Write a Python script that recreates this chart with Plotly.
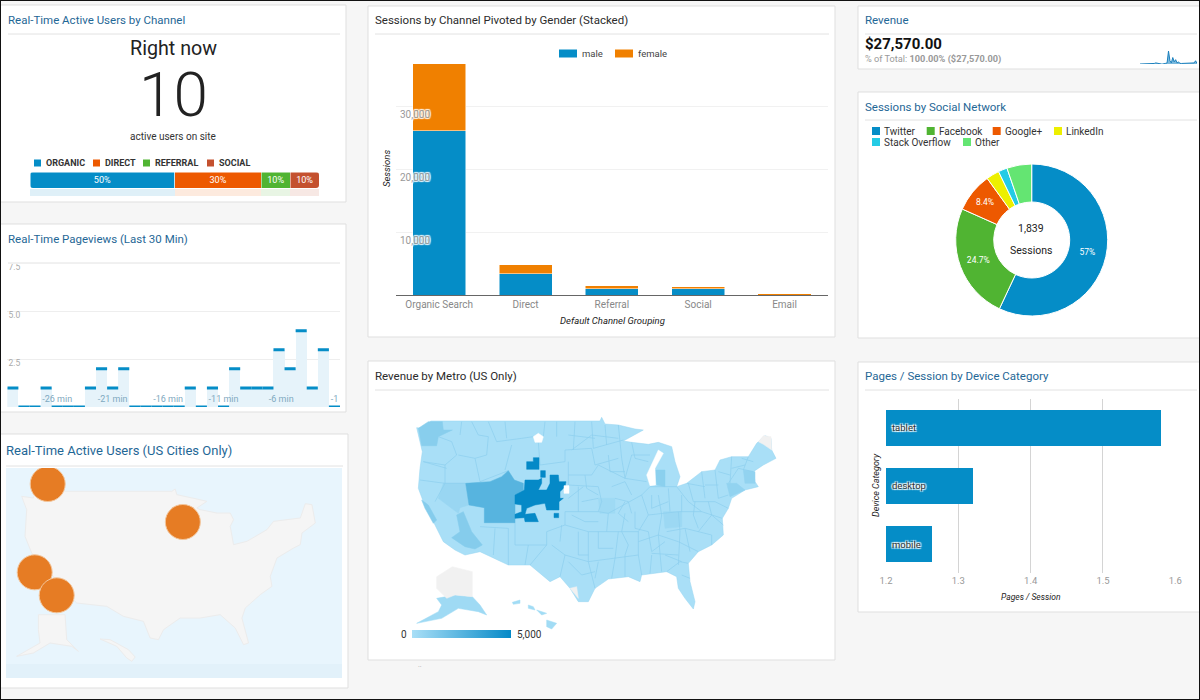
import plotly.graph_objects as go

W, H = 1200, 700
BLUE, ORANGE, GREEN, RED = "#058dc7", "#ed5900", "#50b432", "#c4512f"
TITLE_BLUE, GREY = "#1f6796", "#999999"

# ---------- data ----------
channels = ["ORGANIC", "DIRECT", "REFERRAL", "SOCIAL"]
channel_share = [50, 30, 10, 10]
channel_colors = [BLUE, ORANGE, GREEN, RED]

pageviews = [1, 0, 0, 1, 0, 0, 0, 1, 2, 1, 2, 0, 0, 0, 0, 0, 1, 0, 1, 0, 2, 1, 1, 1, 3, 2, 4, 1, 3, 0]
pageview_ticks = ["-26 min", "-21 min", "-16 min", "-11 min", "-6 min", "-1"]
pageview_tick_pos = [4.5, 9.5, 14.5, 19.5, 24.7, 29.5]
pageview_grid = [2.5, 5.0, 7.5]

gender_categories = ["Organic Search", "Direct", "Referral", "Social", "Email"]
male_sessions = [26100, 3390, 1060, 1060, 20]
female_sessions = [10680, 1430, 420, 265, 100]
session_ticks = [10000, 20000, 30000, 40000]

social_names = ["Twitter", "Facebook", "Google+", "LinkedIn", "Stack Overflow", "Other"]
social_sessions = [1048, 454, 154, 51, 35, 97]
social_labels = ["57%", "24.7%", "8.4%", "", "", ""]
social_colors = [BLUE, "#50b432", ORANGE, "#edef00", "#24cbe5", "#64e572"]

revenue_spark = [0, 0, 0, 0, .4, .6, .5, .2, 0, 0, .5, 1, .6, .2, 0, 0, 0, 0, .6, 1, 12, 3, 1, 6, 2, 4, 1, 2,
                 .6, .5, .5, .4, .4, .4, .5, .5, .5, .6, 1, 3, .6]

devices = ["tablet", "desktop", "mobile"]
pages_per_session = [1.58, 1.32, 1.263]
device_ticks = [1.2, 1.3, 1.4, 1.5, 1.6]

# bubble map, in map-plane units
city_x = [143, 548, 104, 170]
city_y = [163, 277, 428, 497]
us_pale_x = [65, 100, 105, 515, 525, 530, 590, 620, 590, 600, 650, 690, 700, 690, 700, 740, 800, 820, 860, 900, 915,
             935, 945, 905, 900, 880, 830, 810, 815, 780, 735, 725, 745, 730, 705, 660, 600, 540, 490, 475, 450, 430,
             370, 320, 230, 190, 160, 95, 75, 80, 65]
us_pale_y = [200, 205, 185, 185, 178, 195, 208, 215, 235, 240, 250, 250, 270, 290, 345, 335, 300, 275, 270, 265, 222,
             225, 280, 310, 345, 355, 385, 440, 470, 495, 535, 565, 640, 645, 595, 555, 565, 565, 600, 630, 625, 575,
             560, 530, 520, 480, 440, 370, 320, 240, 200]
ak_pale_x = [115, 195, 200, 235, 215, 150, 100, 50, 120, 115, 115]
ak_pale_y = [555, 555, 630, 665, 650, 640, 670, 680, 640, 600, 555]
hi_pale_x = [300, 330, 385, 405, 395, 380, 350, 300]
hi_pale_y = [628, 630, 660, 682, 695, 685, 650, 628]

# metro map, in map-plane units
us_x = [155, 190, 197, 705, 710, 720, 760, 810, 835, 790, 775, 800, 850, 880, 920, 930, 945, 935, 965, 1010, 1050, 1065,
        1100, 1150, 1175, 1200, 1218, 1220, 1233, 1195, 1165, 1170, 1180, 1140, 1100, 1090, 1072, 1075, 1040, 1000,
        970, 975, 990, 985, 960, 940, 935, 905, 870, 830, 825, 790, 730, 690, 670, 640, 615, 585, 555, 520, 495, 465,
        430, 345, 300, 270, 235, 210, 175, 160, 165, 172, 155]
us_y = [218, 222, 198, 198, 187, 207, 210, 222, 225, 250, 258, 262, 268, 262, 275, 320, 365, 395, 385, 350, 345, 315,
        305, 305, 265, 242, 250, 285, 310, 330, 350, 380, 395, 405, 430, 460, 490, 540, 570, 590, 625, 680, 740, 762,
        730, 700, 665, 650, 655, 660, 680, 665, 672, 700, 740, 740, 700, 665, 680, 650, 630, 630, 630, 590, 600, 585,
        560, 510, 440, 400, 340, 290, 218]
lake_x = [845, 880, 895, 870, 872, 855, 845]
lake_y = [360, 285, 295, 340, 390, 392, 360]

metro_regions = [
    ("Salt Lake City", 2500, [302, 375, 410, 430, 448, 475, 475, 450, 450, 358, 358, 312, 302],
     [385, 380, 365, 347, 375, 385, 405, 420, 503, 503, 458, 450, 385]),
    ("Denver", 5000, [450, 478, 480, 520, 530, 530, 520, 545, 555, 555, 580, 582, 603, 600, 585, 585, 595, 582, 582, 545,
                      540, 510, 485, 480, 510, 520, 480, 478, 450, 450, 470, 470, 450, 450],
     [420, 405, 375, 375, 370, 385, 405, 405, 385, 360, 360, 380, 380, 395, 410, 430, 430, 440, 465, 465,
      445, 450, 460, 478, 475, 500, 500, 488, 490, 478, 470, 450, 447, 420]),
    ("Casper", 5000, [485, 505, 505, 522, 522, 485, 485], [320, 320, 308, 308, 343, 343, 320]),
    ("Cheyenne", 5000, [527, 541, 541, 527, 527], [347, 347, 367, 367, 347]),
    ("Pueblo", 5000, [567, 581, 581, 567, 567], [475, 475, 488, 488, 475]),
    ("Seattle", 1000, [190, 232, 235, 262, 220, 215, 170, 160, 190], [200, 200, 225, 225, 245, 272, 272, 220, 200]),
    ("Los Angeles", 1100, [275, 295, 320, 352, 330, 300, 260, 285, 275], [480, 470, 530, 570, 582, 575, 548, 530, 480]),
    ("San Francisco", 1100, [170, 190, 215, 205, 180, 170], [435, 450, 495, 505, 460, 435]),
    ("Reno", 500, [235, 302, 312, 285, 280, 245, 220, 235], [385, 385, 450, 458, 475, 450, 430, 385]),
    ("Lansing", 900, [870, 900, 900, 875, 870], [345, 345, 395, 390, 345]),
    ("Boston", 700, [1135, 1170, 1170, 1140, 1135], [345, 350, 385, 385, 345]),
    ("New York", 700, [1085, 1115, 1140, 1095, 1085], [385, 385, 405, 425, 385]),
    ("Indianapolis", 300, [700, 750, 750, 705, 700], [430, 430, 475, 475, 430]),
    ("Atlanta", 400, [895, 950, 950, 900, 895], [470, 470, 515, 520, 470]),
    ("Alaska", 300, [215, 270, 322, 345, 365, 340, 280, 230, 155, 220, 230, 215],
     [730, 720, 725, 750, 780, 770, 760, 790, 805, 770, 750, 730]),
    ("Hawaii west", 200, [442, 465, 465, 445, 442], [742, 735, 745, 748, 742]),
    ("Hawaii mid", 200, [490, 505, 510, 490, 490], [750, 755, 765, 760, 750]),
    ("Hawaii maui", 200, [515, 545, 530, 515], [765, 775, 780, 765]),
    ("Hawaii big", 200, [545, 575, 560, 545, 545], [795, 805, 822, 815, 795]),
]
unserved = [
    ("Montana gap", "#ffffff", [505, 520, 535, 530, 510, 505], [245, 235, 245, 262, 262, 245]),
    ("Nebraska gap", "#ffffff", [597, 612, 612, 597, 597], [392, 392, 415, 415, 392]),
    ("Maine gap", "#f1f1f1", [1180, 1195, 1218, 1220, 1195, 1180], [260, 242, 245, 285, 268, 260]),
    ("Texas gap", "#f1f1f1", [615, 635, 640, 615], [700, 695, 730, 700]),
    ("Alaska north", "#f1f1f1", [215, 262, 322, 322, 270, 245, 215, 215], [665, 635, 650, 725, 720, 730, 700, 665]),
    ("Lake Michigan", "#ffffff", lake_x, lake_y),
]
border_lines = [
    [(320, 200), (340, 240), (370, 245), (365, 300), (330, 310)], [(370, 200), (395, 260), (470, 250), (505, 245)],
    [(520, 262), (525, 330), (600, 320), (600, 285), (680, 280), (690, 330), (760, 310)], [(630, 200), (625, 285)],
    [(540, 200), (535, 245)], [(685, 280), (720, 270), (775, 255)], [(760, 210), (770, 310), (780, 370)],
    [(220, 245), (260, 260), (275, 300), (240, 330), (175, 320)], [(240, 330), (240, 385)],
    [(165, 375), (240, 385), (300, 385)], [(280, 300), (330, 310), (345, 380)], [(610, 320), (610, 390), (700, 395)],
    [(610, 360), (680, 360), (700, 330), (780, 370)], [(700, 395), (710, 440), (700, 470), (730, 475), (830, 420)],
    [(780, 370), (800, 300), (855, 300)], [(780, 370), (845, 380)], [(830, 420), (855, 395), (935, 395)],
    [(830, 420), (850, 480), (820, 530), (820, 600), (830, 660)], [(730, 475), (725, 530), (670, 530), (670, 620)],
    [(670, 530), (600, 510), (545, 530), (545, 570), (495, 630)], [(345, 515), (430, 520), (430, 630)],
    [(450, 503), (450, 570), (545, 570)], [(600, 510), (600, 470), (700, 470)], [(725, 530), (820, 530)],
    [(670, 620), (750, 610), (820, 600)], [(600, 600), (670, 620), (690, 700)], [(560, 570), (600, 600), (585, 665)],
    [(880, 420), (890, 480), (880, 540), (890, 650)], [(850, 480), (940, 470), (1010, 470), (1072, 490)],
    [(820, 560), (880, 540), (940, 560), (1000, 590)], [(940, 470), (945, 530), (940, 630)],
    [(935, 395), (970, 440), (1010, 470)], [(970, 385), (985, 440), (1050, 440), (1090, 460)],
    [(1010, 350), (1020, 430)], [(1050, 345), (1060, 430)], [(1100, 305), (1095, 385)], [(1150, 305), (1135, 345)],
    [(1165, 350), (1120, 340), (1090, 385)], [(1000, 530), (1040, 480)], [(905, 650), (945, 620), (970, 625)],
    [(860, 595), (940, 600)], [(760, 530), (750, 610), (740, 670)], [(780, 475), (770, 530)],
    [(650, 440), (700, 430)], [(640, 395), (640, 470)],
    [(620, 285), (680, 240), (760, 250)], [(800, 262), (810, 310), (850, 320)], [(730, 300), (735, 350), (780, 350)],
    [(660, 360), (665, 400), (700, 420)], [(740, 395), (780, 380), (800, 420)], [(750, 430), (790, 440), (800, 475)],
    [(780, 440), (760, 475), (790, 500)], [(810, 470), (810, 520), (850, 530)], [(860, 420), (860, 460), (910, 440)],
    [(910, 400), (915, 470)], [(950, 420), (950, 470)], [(990, 440), (985, 480), (1000, 520)],
    [(1030, 440), (1040, 480), (1075, 510)], [(1020, 390), (1060, 390)], [(965, 385), (1020, 395)],
    [(1060, 350), (1095, 360)], [(1100, 340), (1140, 330)], [(1130, 310), (1165, 320)], [(1060, 430), (1090, 420)],
    [(850, 530), (860, 590), (900, 560)], [(905, 530), (960, 520), (1000, 530)], [(960, 520), (975, 590)],
    [(1000, 530), (1040, 540), (1040, 570)], [(770, 530), (790, 570), (780, 600)], [(700, 530), (700, 580), (745, 580)],
    [(640, 530), (640, 600), (670, 600)], [(610, 620), (650, 660), (690, 650)], [(700, 620), (690, 670)],
    [(780, 600), (780, 665)], [(860, 600), (855, 655)], [(900, 600), (950, 620)], [(950, 660), (975, 670)],
    [(620, 480), (660, 500), (700, 500)], [(655, 395), (610, 430)], [(590, 510), (585, 560)], [(490, 570), (480, 630)],
    [(390, 520), (385, 600)], [(175, 320), (245, 340)], [(210, 440), (240, 385)], [(290, 200), (285, 240)],
    [(420, 200), (425, 250)], [(440, 270), (420, 345)], [(345, 380), (430, 347)], [(575, 200), (575, 245)],
    [(680, 200), (685, 280)], [(610, 240), (690, 250)], [(720, 210), (725, 270)],
]
revenue_scale = [0, 5000]

tick_text = [f"{v:,}" for v in session_ticks[:3]]


# ---------- px helpers ----------
def px(x):
    return x / W


def py(y):
    return 1 - y / H


def rect(x0, y0, x1, y1, fill, line=None):
    return dict(type="rect", xref="paper", yref="paper", layer="below", x0=px(x0), x1=px(x1), y0=py(y0), y1=py(y1),
                fillcolor=fill, line=dict(color=line or fill, width=1 if line else 0))


def label(x, y, text, size=10, color="#333333", anchor="left", family="Roboto", **kw):
    font = dict(size=size, color=color, family=family)
    font.update(kw.pop("font", {}))
    return dict(xref="paper", yref="paper", x=px(x), y=py(y), text=text, showarrow=False, xanchor=anchor,
                yanchor="middle", borderpad=0, font=font, **kw)


shapes, notes, axes = [], [], {}
HALO = "1px 1px 1px #ffffff, -1px -1px 1px #ffffff, 1px -1px 1px #ffffff, -1px 1px 1px #ffffff"


def panel(x0, y0, x1, y1, title, tx, ty, div_y, color=TITLE_BLUE, size=11.5, div_x1=None):
    shapes.append(rect(x0, y0, x1, y1, "#ffffff", "#dfdfdf"))
    shapes.append(dict(type="line", xref="paper", yref="paper", layer="below", x0=px(tx + 1), x1=px(div_x1 or x1 - 6),
                       y0=py(div_y), y1=py(div_y), line=dict(color="#e2e2e2", width=1)))
    notes.append(label(tx, ty, title, size=size, color=color))


def add_axes(n, x0, x1, y0, y1, xkw=None, ykw=None):
    base = dict(showgrid=False, zeroline=False, showticklabels=False, ticks="", showline=False, fixedrange=True)
    suffix = "" if n == 1 else str(n)
    axes[f"xaxis{suffix}"] = {**base, "domain": [px(x0), px(x1)], "anchor": f"y{suffix}", **(xkw or {})}
    axes[f"yaxis{suffix}"] = {**base, "domain": [py(y1), py(y0)], "anchor": f"x{suffix}", **(ykw or {})}
    return dict(xaxis=f"x{suffix}", yaxis=f"y{suffix}")


def corner(cx, cy, dx, dy, r=3):
    """White notch that rounds one corner of the status bar."""
    p = (f"M {px(cx)} {py(cy)} L {px(cx + dx * r)} {py(cy)} Q {px(cx)} {py(cy)} {px(cx)} {py(cy + dy * r)} Z")
    return dict(type="path", xref="paper", yref="paper", path=p, fillcolor="#ffffff", line=dict(width=0), layer="above")


def lerp_color(v, lo=(169, 223, 247), hi=(5, 137, 199), vmax=5000):
    t = v / vmax
    return "rgb(%d,%d,%d)" % tuple(round(a + (b - a) * t) for a, b in zip(lo, hi))


fig = go.Figure()

# ---------- panels ----------
panel(-3, 5, 346, 202, "Real-Time Active Users by Channel", 7, 20, 34)
panel(-3, 224, 346, 412, "Real-Time Pageviews (Last 30 Min)", 7, 239, 263)
panel(-3, 434, 348, 688, "Real-Time Active Users (US Cities Only)", 5, 451, 466, size=13, div_x1=343)
panel(368, 6, 835, 337, "Sessions by Channel Pivoted by Gender (Stacked)", 374, 20, 34, color="#2b2b2b")
panel(368, 361, 835, 660, "Revenue by Metro (US Only)", 374, 376, 390, color="#2b2b2b")
panel(858, 6, 1203, 69, "Revenue", 864, 20, 34, div_x1=1197)
panel(858, 92, 1203, 338, "Sessions by Social Network", 864, 107, 120, div_x1=1197)
panel(858, 362, 1203, 612, "Pages / Session by Device Category", 864, 376, 390, div_x1=1197)

# ---------- channel status ----------
notes += [label(173, 48, "Right now", size=19.7, color="#222222", anchor="center"),
          label(173, 95, "10", size=62, color="#222222", anchor="center", font=dict(weight=300)),
          label(173, 136, "active users on site", size=10, color="#333333", anchor="center")]
leg_sq = [34, 93, 143, 207]
leg_tx = [44.7, 103.7, 154, 217.5]
for name, c, sx, tx in zip(channels, channel_colors, leg_sq, leg_tx):
    shapes.append(rect(sx, 159.5, sx + 7, 166.5, c))
    notes.append(label(tx, 163.5, f"<b>{name}</b>", size=9, color="#333333"))
a = add_axes(1, 30, 319, 172, 188, dict(range=[0, 100]), dict(range=[-.5, .5]))
a2 = add_axes(2, 30, 319, 188.5, 196, dict(range=[0, 100]), dict(range=[-.5, .5]))
for name, v, c in zip(channels, channel_share, channel_colors):
    fig.add_bar(x=[v], y=[0], orientation="h", name=name, width=1, marker=dict(color=c, line=dict(color="#fff", width=.5)),
                text=[f"{v}%"], textposition="inside", insidetextanchor="middle", textangle=0,
                textfont=dict(color="#ffffff", size=10, family="Roboto"), **a)
    fig.add_bar(x=[v], y=[0], orientation="h", name=name + " reflection", width=1, opacity=.13,
                marker=dict(color=c, line=dict(width=0)), **a2)
shapes += [corner(30, 172, 1, 1), corner(30, 188, 1, -1), corner(319, 172, -1, 1), corner(319, 188, -1, -1)]

# ---------- pageviews ----------
a = add_axes(3, 7.3, 340, 264, 407, dict(range=[0, 30]),
             dict(range=[0, 7.5], showgrid=True, gridcolor="#eeeeee", tickvals=pageview_grid))
fig.add_bar(x=[i + .5 for i in range(len(pageviews))], y=pageviews, width=1, marker=dict(color="#e6f3fa", line=dict(width=0)),
            name="Pageviews", **a)
sx, sy = [], []
for i, v in enumerate(pageviews):
    sx += [i, i + 1, None]
    sy += [v, v, None]
fig.add_scatter(x=sx, y=sy, mode="lines", line=dict(color=BLUE, width=3), cliponaxis=False, name="Pageviews top", **a)
fig.add_scatter(x=pageview_tick_pos, y=[.38] * len(pageview_ticks), mode="text", text=pageview_ticks, name="ticks",
                textfont=dict(size=9, color="#7fa9c0", family="Roboto"), **a)
fig.add_scatter(x=[.1] * 3, y=pageview_grid, mode="text", text=[f"{v:.1f}" for v in pageview_grid],
                textposition="bottom right", textfont=dict(size=8.5, color="#aaaaaa", family="Roboto"), name="yticks", **a)

# ---------- bubble map ----------
shapes.append(rect(6, 468, 342, 678, "#e8f5fd"))
shapes.append(rect(6, 664, 342, 678, "#e2f1fa"))
a = add_axes(4, 6, 342, 468, 678, dict(range=[18, 1025]), dict(range=[745, 115]))
for nm, xs, ys in [("US", us_pale_x, us_pale_y), ("Alaska", ak_pale_x, ak_pale_y), ("Hawaii", hi_pale_x, hi_pale_y)]:
    fig.add_scatter(x=xs, y=ys, mode="lines", fill="toself", fillcolor="#f5f5f5", line=dict(color="#ececec", width=1), name=nm, **a)
fig.add_scatter(x=city_x, y=city_y, mode="markers", name="Cities",
                marker=dict(size=35, color="#e67c24", line=dict(color="#f3c69c", width=1)), **a)

# ---------- stacked bars ----------
a = add_axes(5, 396, 827.7, 43.3, 295.3,
             dict(type="category", showticklabels=True, showline=True, linecolor="#666666", linewidth=1,
                  tickfont=dict(size=10, color="#888888", family="Roboto"), range=[-.5, 4.5]),
             dict(range=[0, 40000], showgrid=True, gridcolor="#f1f1f1", tickvals=session_ticks))
fig.add_bar(x=gender_categories, y=male_sessions, name="male",
            marker=dict(color=BLUE, line=dict(color="#fff", width=[.5, .5, .5, .5, 0])), **a)
fig.add_bar(x=gender_categories, y=female_sessions, name="female",
            marker=dict(color="#f08000", line=dict(color="#fff", width=[.5, .5, .5, .5, 0])), **a)
for v, t in zip(session_ticks, tick_text):
    notes.append(dict(xref="paper", yref="y5", x=px(399.3), y=v, yshift=-8, text=t, showarrow=False, xanchor="left",
                      yanchor="middle", borderpad=0,
                      font=dict(size=10, color="#999999", family="Roboto", shadow=HALO)))
for sx_, tx, c, t in [(559, 580.5, BLUE, "male"), (615, 637, "#f08000", "female")]:
    shapes.append(rect(sx_, 49.5, sx_ + 18, 57.5, c))
    notes.append(label(tx, 53.5, t, size=9.5, color="#444444"))
notes.append(label(612, 320.5, "<i>Default Channel Grouping</i>", size=9.5, color="#222222", anchor="center"))
notes.append(label(386, 169, "<i>Sessions</i>", size=9.5, color="#222222", anchor="center", textangle=-90))

# ---------- metro map ----------
a = add_axes(6, 365, 845, 355, 675, dict(range=[0, 1440]), dict(range=[960, 0]))
fig.add_scatter(x=us_x, y=us_y, mode="lines", fill="toself", fillcolor=lerp_color(0), line=dict(color="#97d5f1", width=.5),
                name="Rest of US", **a)
for nm, v, xs, ys in metro_regions:
    if v < 2000:
        fig.add_scatter(x=xs, y=ys, mode="lines", fill="toself", fillcolor=lerp_color(v),
                        line=dict(color=lerp_color(v), width=.5), name=nm, **a)
bx, by = [], []
for ln in border_lines:
    bx += [p[0] for p in ln] + [None]
    by += [p[1] for p in ln] + [None]
fig.add_scatter(x=bx, y=by, mode="lines", line=dict(color="#8ccfee", width=.7), name="Metro borders", **a)
for nm, v, xs, ys in metro_regions:
    if v >= 2000:
        fig.add_scatter(x=xs, y=ys, mode="lines", fill="toself", fillcolor=lerp_color(v),
                        line=dict(color=lerp_color(v), width=.5), name=nm, **a)
for nm, c, xs, ys in unserved:
    fig.add_scatter(x=xs, y=ys, mode="lines", fill="toself", fillcolor=c, line=dict(color=c, width=.5), name=nm, **a)
# colour scale legend: a gradient-filled strip on its own small axes
a9 = add_axes(9, 412, 511, 630, 638, dict(range=revenue_scale), dict(range=[0, 1]))
fig.add_scatter(x=[revenue_scale[0], revenue_scale[1], revenue_scale[1], revenue_scale[0], revenue_scale[0]],
                y=[0, 0, 1, 1, 0], mode="lines", line=dict(width=0), name="scale", fill="toself",
                fillgradient=dict(type="horizontal", colorscale=[[0, lerp_color(0)], [1, lerp_color(5000)]]), **a9)
notes += [label(404, 634, "0", size=10, color="#333333", anchor="center"),
          label(516, 634, "5,000", size=10, color="#333333"),
          label(420, 665, "..", size=7, color="#aaaaaa", anchor="center")]

# ---------- revenue ----------
notes += [label(864, 44, "<b>$27,570.00</b>", size=15, color="#111111"),
          label(864, 58.5, '% of Total: <b>100.00% ($27,570.00)</b>', size=9.2, color="#999999")]
a = add_axes(7, 1140, 1197, 50, 64, dict(range=[0, len(revenue_spark) - 1]), dict(range=[0, 13]))
fig.add_scatter(x=list(range(len(revenue_spark))), y=revenue_spark, mode="lines", fill="tozeroy", fillcolor="#7bb9dd",
                line=dict(color="#1b80bd", width=1), name="Revenue", **a)

# ---------- donut ----------
fig.add_pie(labels=social_names, values=social_sessions, hole=.5, sort=False, direction="clockwise", rotation=0,
            marker=dict(colors=social_colors, line=dict(color="#ffffff", width=1)), text=social_labels, textinfo="text",
            textposition="inside", insidetextorientation="horizontal", textfont=dict(color="#ffffff", size=8.5, family="Roboto"),
            domain=dict(x=[px(1031.7 - 76), px(1031.7 + 76)], y=[py(240 + 76), py(240 - 76)]), showlegend=False)
notes += [label(1031, 228.5, "1,839", size=10.5, color="#222222", anchor="center"),
          label(1031, 250.5, "Sessions", size=10.5, color="#222222", anchor="center")]
soc_sq = [(872, 131), (926.7, 131), (992.7, 131), (1054, 131), (872, 142), (963, 142)]
soc_tx = [883, 937.5, 1004, 1065, 883, 973.5]
for (sx_, sy_), tx, nm, c in zip(soc_sq, soc_tx, social_names, social_colors):
    shapes.append(rect(sx_, sy_ - 4, sx_ + 8, sy_ + 4, c))
    notes.append(label(tx, sy_, nm, size=10, color="#333333"))

# ---------- device bars ----------
a = add_axes(8, 886, 1175.3, 399, 573,
             dict(range=[1.2, 1.6], showticklabels=True, tickvals=device_ticks, tickformat=".1f", showgrid=True, gridcolor="#d4d4d4",
                  tickfont=dict(size=9.5, color="#999999", family="Roboto")),
             dict(type="category", range=[2.5, -.5]))
fig.add_bar(x=pages_per_session, y=devices, orientation="h", name="Pages / Session", width=.62,
            marker=dict(color=BLUE, line=dict(width=0)), **a)
for d in devices:
    notes.append(dict(xref="paper", yref="y8", x=px(891), y=d, text=d, showarrow=False, xanchor="left", yanchor="middle",
                      borderpad=0, font=dict(size=9.5, color="#333333", family="Roboto", shadow=HALO)))
notes.append(label(1031, 596.5, "<i>Pages / Session</i>", size=8.5, color="#222222", anchor="center"))
notes.append(label(876, 485, "<i>Device Category</i>", size=9, color="#222222", anchor="center", textangle=-90))

# ---------- frame ----------
shapes.append(dict(type="rect", xref="paper", yref="paper", x0=0, x1=1, y0=0, y1=1, layer="above",
                   line=dict(color="#111111", width=2), fillcolor="rgba(0,0,0,0)"))

fig.update_layout(width=W, height=H, margin=dict(l=0, r=0, t=0, b=0, pad=0, autoexpand=False), paper_bgcolor="#f6f6f6",
                  plot_bgcolor="rgba(0,0,0,0)", barmode="stack", bargap=.386, showlegend=False, hovermode=False,
                  font=dict(family="Roboto"), shapes=shapes, annotations=notes, **axes)
fig.write_html("out.html", config=dict(displayModeBar=False), post_script="document.body.style.margin='0';")
